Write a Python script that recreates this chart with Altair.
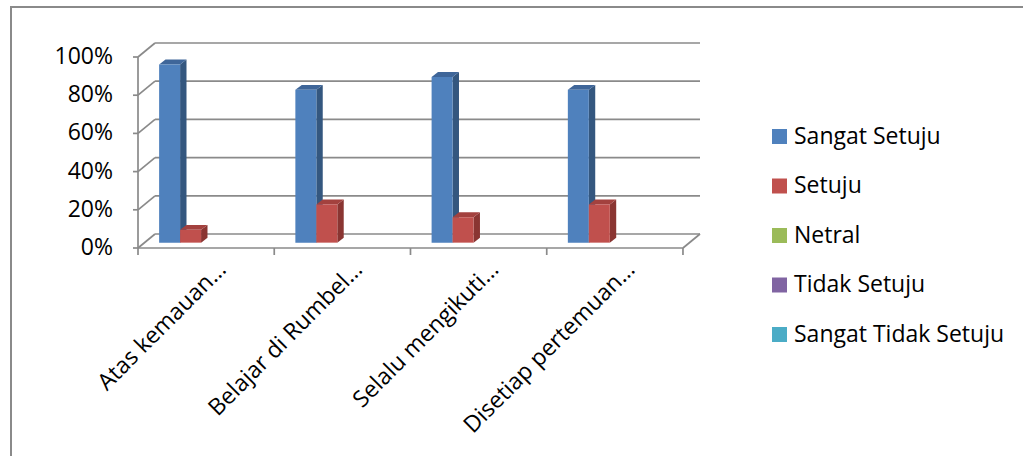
import altair as alt
import pandas as pd

# ---------------- data ----------------
categories = ["Atas kemauan…", "Belajar di Rumbel…", "Selalu mengikuti…", "Disetiap pertemuan…"]
series = ["Sangat Setuju", "Setuju", "Netral", "Tidak Setuju", "Sangat Tidak Setuju"]
sangat_setuju = [93.3, 80.0, 86.7, 80.0]
setuju = [6.7, 20.0, 13.3, 20.0]
netral = [0.0, 0.0, 0.0, 0.0]
tidak_setuju = [0.0, 0.0, 0.0, 0.0]
sangat_tidak_setuju = [0.0, 0.0, 0.0, 0.0]
values = [sangat_setuju, setuju, netral, tidak_setuju, sangat_tidak_setuju]
y_ticks = [0, 20, 40, 60, 80, 100]
y_labels = ["0%", "20%", "40%", "60%", "80%", "100%"]

# ---------------- styles ----------------
front_colors = ["#4F81BD", "#C0504D", "#9BBB59", "#8064A2", "#4BACC6"]
side_colors = ["#34577F", "#8A3532", "#6E8A3C", "#5A4575", "#2E7F96"]
top_colors = ["#3F6699", "#A3413E", "#85A24A", "#6C5490", "#3A97AF"]
FONT = "Open Sans"
FS = 23
GRID = "#8A8A8A"

W, H = 562, 205
X_MAX, Y_MAX = 4.125, 107.33
DX, DY = 0.125, 7.33          # wall depth (data units)
BAR_W, BAR_OFF = 0.154, 0.155  # bar width / offset inside category
BASE = 2.8                     # bar base (front scale)
BDX, BDY = 0.047, 2.6          # bar depth

# ---------------- derived tables ----------------
front_rows, side_rows, top_rows = [], [], []
for ci, cat in enumerate(categories):
    for si, s in enumerate(series):
        v = values[si][ci]
        x0 = ci + BAR_OFF + si * BAR_W
        x1 = x0 + BAR_W
        bid = f"{ci}-{si}"
        front_rows.append(dict(series=s, x0=x0, x1=x1, y0=BASE, y1=BASE + v, v=v))
        side_rows.append(dict(bid=bid, c=side_colors[si], x=x1, y=BASE, y2=BASE + v, v=v))
        side_rows.append(dict(bid=bid, c=side_colors[si], x=x1 + BDX, y=BASE + BDY, y2=BASE + v + BDY, v=v))
        top_rows.append(dict(bid=bid, c=top_colors[si], y=BASE + v, x=x0, x2=x1, v=v))
        top_rows.append(dict(bid=bid, c=top_colors[si], y=BASE + v + BDY, x=x0 + BDX, x2=x1 + BDX, v=v))
front_df = pd.DataFrame(front_rows)
side_df = pd.DataFrame(side_rows)
top_df = pd.DataFrame(top_rows)

seg_rows = []
for t in y_ticks:
    seg_rows.append(dict(x=DX, y=t + DY, x2=X_MAX, y2=t + DY))   # back wall
    seg_rows.append(dict(x=0, y=t, x2=DX, y2=t + DY))            # side wall
seg_rows.append(dict(x=0, y=0, x2=len(categories), y2=0))                    # floor front
seg_rows.append(dict(x=len(categories), y=0, x2=X_MAX, y2=DY))               # floor right
seg_rows.append(dict(x=0, y=0, x2=0, y2=y_ticks[-1]))                        # front value axis
seg_df = pd.DataFrame(seg_rows)

label_df = pd.DataFrame({"cat": categories, "pos": [i + 0.62 for i in range(len(categories))]})
tick_df = pd.DataFrame({"t": y_ticks, "lab": y_labels})
xtick_df = pd.DataFrame({"k": list(range(len(categories) + 1))})

xs = alt.Scale(domain=[0, X_MAX], nice=False, zero=False)
ys = alt.Scale(domain=[0, Y_MAX], nice=False, zero=False)

border = alt.Chart(pd.DataFrame({"a": [0]})).mark_rect(
    filled=False, stroke="#8A8A8A", strokeWidth=2
).encode(x=alt.value(11 - 138), x2=alt.value(1200), y=alt.value(7 - 43), y2=alt.value(700))

grid = alt.Chart(seg_df).mark_rule(color=GRID, strokeWidth=1.7).encode(
    x=alt.X("x:Q", scale=xs, axis=None),
    x2="x2:Q",
    y=alt.Y("y:Q", scale=ys, axis=None),
    y2="y2:Q",
)

yticks = alt.Chart(tick_df).mark_rule(color=GRID, strokeWidth=1.7).encode(
    x=alt.value(-5), x2=alt.value(0),
    y=alt.Y("t:Q", scale=ys, axis=None),
)

ylabels = alt.Chart(tick_df).mark_text(
    align="right", baseline="middle", fontSize=FS, font=FONT, color="#000000"
).encode(
    x=alt.value(-25),
    y=alt.Y("t:Q", scale=ys, axis=None),
    text="lab:N",
)

xaxis = alt.Chart(xtick_df).mark_rule(color=GRID, strokeWidth=1.7).encode(
    x=alt.X("k:Q", scale=xs, axis=None),
    y=alt.value(H), y2=alt.value(H + 7),
)

sides = alt.Chart(side_df).transform_filter("datum.v > 0").mark_area(orient="vertical").encode(
    x=alt.X("x:Q", scale=xs, axis=None),
    y=alt.Y("y:Q", scale=ys, axis=None),
    y2="y2:Q",
    detail="bid:N",
    fill=alt.Fill("c:N", scale=None),
)

tops = alt.Chart(top_df).transform_filter("datum.v > 0").mark_area(orient="horizontal").encode(
    y=alt.Y("y:Q", scale=ys, axis=None),
    x=alt.X("x:Q", scale=xs, axis=None),
    x2="x2:Q",
    detail="bid:N",
    fill=alt.Fill("c:N", scale=None),
)

fronts = alt.Chart(front_df).transform_filter("datum.v > 0").mark_rect().encode(
    x=alt.X("x0:Q", scale=xs, axis=None),
    x2="x1:Q",
    y=alt.Y("y0:Q", scale=ys, axis=None),
    y2="y1:Q",
    color=alt.Color("series:N", scale=alt.Scale(domain=series, range=front_colors),
                    legend=alt.Legend(title=None, orient="none", legendX=630, legendY=82,
                                      symbolType="square", symbolSize=225, symbolStrokeWidth=0,
                                      symbolOpacity=1, labelFontSize=FS, labelFont=FONT,
                                      labelColor="#000000", labelOffset=3, rowPadding=25.5,
                                      labelLimit=400, padding=0)),
)

labels = alt.Chart(label_df).mark_text(
    angle=315, align="right", baseline="middle", fontSize=FS, font=FONT, color="#000000"
).encode(
    x=alt.X("pos:Q", scale=xs, axis=None),
    y=alt.value(H + 18),
    text="cat:N",
)

chart = alt.layer(border, grid, yticks, ylabels, xaxis, sides, tops, fronts, labels).properties(
    width=W, height=H,
    padding={"left": 138, "top": 43, "right": 1023 - 138 - W, "bottom": 456 - 43 - H},
    autosize=alt.AutoSizeParams(type="none"),
    background="#FFFFFF",
).configure_view(stroke=None)

chart.save("out.html", embed_options={"renderer": "svg", "actions": False})
